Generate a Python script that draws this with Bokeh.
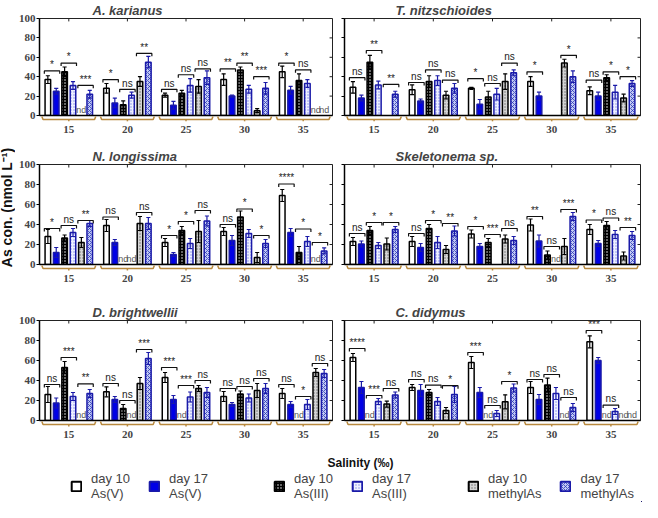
import numpy as np
from bokeh.plotting import figure
from bokeh.models import (ColumnDataSource, Range1d, FixedTicker, Legend, LegendItem, Label)
from bokeh.layouts import column, row
from bokeh.embed import file_html
from bokeh.resources import INLINE
from bokeh.core.properties import value

salinity = ["15", "20", "25", "30", "35"]
series = ["day 10\nAs(V)", "day 17\nAs(V)", "day 10\nAs(III)", "day 17\nAs(III)",
          "day 10\nmethylAs", "day 17\nmethylAs"]
yticks = [0, 20, 40, 60, 80, 100]
N = None

# ---- A. karianus ----
kar_mean = [[37, 25, 45, 31, N, 22], [28, 13, 11, 21, 35, 55], [21, 10.5, 23, 31, 30, 39],
            [37, 20, 47, 27, 5, 28], [45, 26, 36, 33, N, N]]
kar_sd = [[4, 3, 5, 4, 0, 4], [5, 5, 4, 3, 5, 6], [2, 4, 3, 7, 7, 7], [6, 1, 3, 4, 2, 6], [6, 4, 7, 4, 0, 0]]
kar_nd = [(0, 4), (4, 4), (4, 5)]
kar_sig = [(0, 0, 1, "*", 46), (0, 2, 3, "*", 54), (0, 4, 5, "***", 31), (1, 0, 1, "*", 37),
           (1, 2, 3, "ns", 27), (1, 4, 5, "**", 64), (2, 0, 1, "ns", 27), (2, 2, 3, "ns", 42),
           (2, 4, 5, "ns", 48), (3, 0, 1, "**", 48), (3, 2, 3, "**", 54), (3, 4, 5, "***", 40),
           (4, 0, 1, "*", 54), (4, 2, 3, "ns", 47)]

# ---- T. nitzschioides ----
nit_mean = [[29, 18, 55, 31.5, N, 22], [26.5, 15, 35, 36, 21, 28], [28, 11.5, 19, 22, 35, 44],
            [35, 20, N, N, 54, 40], [25.5, 20, 39, 24, 18, 33]]
nit_sd = [[6, 3, 7, 4, 0, 3], [5, 2, 6, 5, 4, 5], [1, 5, 6, 6, 8, 3], [5, 4, 0, 0, 4, 6], [4, 4, 3, 7, 4, 3]]
nit_nd = []
nit_sig = [(0, 0, 1, "ns", 39), (0, 2, 3, "**", 67), (0, 4, 5, "**", 32), (1, 0, 1, "ns", 34),
           (1, 2, 3, "ns", 47), (1, 4, 5, "ns", 36.5), (2, 0, 1, "*", 38), (2, 2, 3, "ns", 33),
           (2, 4, 5, "ns", 54), (3, 0, 1, "*", 45), (3, 4, 5, "*", 62), (4, 0, 1, "ns", 36.5),
           (4, 2, 3, "*", 45), (4, 4, 5, "*", 40)]

# ---- N. longissima ----
lon_mean = [[28, 12, 26.5, 32, 22, 41], [39, 22, N, N, 41, 41], [22, 10, 34, 21, 33, 43.5],
            [33, 24, 47.5, 31, 7, 21], [69, 32, 12, 23, N, 13.6]]
lon_sd = [[7, 5, 3, 4, 5, 3], [6, 3, 0, 0, 7, 6], [4, 2, 4, 5, 11, 5], [4, 5, 6, 4, 5, 4], [6, 4, 6, 5, 0, 3]]
lon_nd = [(1, 2), (1, 3), (4, 4)]
lon_sig = [(0, 0, 1, "*", 36), (0, 2, 3, "ns", 39), (0, 4, 5, "**", 44), (1, 0, 1, "ns", 47.5),
           (1, 4, 5, "ns", 52), (2, 0, 1, "*", 29), (2, 2, 3, "*", 43), (2, 4, 5, "ns", 54),
           (3, 0, 1, "ns", 40), (3, 2, 3, "*", 55.5), (3, 4, 5, "*", 29), (4, 0, 1, "****", 80.5),
           (4, 2, 3, "*", 35.5), (4, 4, 5, "*", 22)]

# ---- Skeletonema sp. ----
ske_mean = [[23, 20.5, 34, 19, 20.5, 35], [23, 17, 36, 22, 15, 33.5], [30.5, 18, 22, N, 25.5, 24],
            [39.5, 23.5, 9.5, N, 18, 48], [35, 21, 39, 30, 8.5, 29]]
ske_sd = [[4, 3, 4, 3, 6, 3], [5, 4, 4, 6, 4, 5], [4, 3, 4, 0, 4, 4], [6, 6, 4, 0, 8, 4], [5, 3, 4, 4, 4, 4]]
ske_nd = [(3, 3)]
ske_sig = [(0, 0, 1, "ns", 31), (0, 2, 3, "*", 42), (0, 4, 5, "*", 42), (1, 0, 1, "ns", 31),
           (1, 2, 3, "*", 44), (1, 4, 5, "**", 41), (2, 0, 1, "*", 38), (2, 2, 3, "***", 30),
           (2, 4, 5, "ns", 36), (3, 0, 1, "**", 48), (3, 2, 3, "ns", 18), (3, 4, 5, "***", 55),
           (4, 0, 1, "*", 44.5), (4, 2, 3, "ns", 46.5), (4, 4, 5, "**", 37)]

# ---- D. brightwellii ----
bri_mean = [[26, 17.5, 53, 24, N, 27], [28.7, 21, 12, N, 37, 62], [43, 21, N, 23.5, 32, 28],
            [24, 16, 26.5, 22.5, 30, 32], [27, 16, N, 16, 48, 47]]
bri_sd = [[8, 5, 6, 4, 0, 4], [5, 3, 4, 0, 6, 6], [5, 4, 0, 5, 3, 5], [5, 2, 3, 4, 7, 5], [5, 3, 0, 5, 4, 4]]
bri_nd = [(0, 4), (1, 3), (2, 2), (4, 2)]
bri_sig = [(0, 0, 1, "ns", 36), (0, 2, 3, "***", 63), (0, 4, 5, "**", 36.6), (1, 0, 1, "ns", 37),
           (1, 2, 3, "ns", 20), (1, 4, 5, "***", 71), (2, 0, 1, "***", 53), (2, 2, 3, "***", 35),
           (2, 4, 5, "ns", 40), (3, 0, 1, "ns", 32), (3, 2, 3, "ns", 34), (3, 4, 5, "ns", 42),
           (4, 0, 1, "ns", 36), (4, 2, 3, "*", 24), (4, 4, 5, "ns", 57)]

# ---- C. didymus ----
did_mean = [[63, 33, N, 19, 16.4, 25.5], [33, 30, 28, 19, 10, 26], [58, 28, N, 7, 18.7, 32.5],
            [33, 21, 35.4, 27, N, 13], [78.7, 60, N, 9, N, N]]
did_sd = [[4, 6, 0, 3, 3, 3], [3, 6, 3, 4, 3, 8], [6, 5, 0, 3, 7, 4], [6, 5, 7, 6, 0, 4], [6, 3, 0, 3, 0, 0]]
did_nd = [(0, 2), (2, 2), (3, 4), (4, 2), (4, 4), (4, 5)]
did_sig = [(0, 0, 1, "****", 72), (0, 2, 3, "***", 25), (0, 4, 5, "ns", 32), (1, 0, 1, "ns", 41),
           (1, 2, 3, "ns", 35.4), (1, 4, 5, "*", 34.8), (2, 0, 1, "***", 68), (2, 2, 3, "ns", 15),
           (2, 4, 5, "*", 39), (3, 0, 1, "ns", 41), (3, 2, 3, "ns", 46), (3, 4, 5, "ns", 23),
           (4, 0, 1, "***", 90), (4, 2, 3, "ns", 15.4)]

BLUE = "#0000e6"
DBLUE = "#1a1aa8"
STYLES = [
    dict(fill_color="white", line_color="black"),
    dict(fill_color=BLUE, line_color=DBLUE),
    dict(fill_color="black", line_color="black", hatch_pattern="dot", hatch_color="white", hatch_scale=3, hatch_weight=1.6),
    dict(fill_color="#eef0ff", line_color=DBLUE, hatch_pattern="dot", hatch_color="#7f8de8", hatch_scale=3, hatch_weight=1),
    dict(fill_color="#d4d4d4", line_color="black", hatch_pattern="dot", hatch_color="#6e6e6e", hatch_scale=3, hatch_weight=1),
    dict(fill_color="#c4caf4", line_color=DBLUE, hatch_pattern="diagonal_cross", hatch_color="#2a3ab8", hatch_scale=4, hatch_weight=0.8),
]
ECOL = ["black", DBLUE, "black", DBLUE, "black", DBLUE]
STEP = 0.143
BW = 0.095
CAP = 0.035
BROWN = "#b8893e"
SANS = "Liberation Sans"
SERIF = "Liberation Serif"


def bar_x(g, j):
    return g + (j - 2.5) * STEP


def panel(name, mean, sd, nd, sig, is_left, height, mb_top, mb_bottom):
    w = 323 if is_left else 304
    p = figure(width=w, height=height, x_range=Range1d(-0.5, 4.5), y_range=Range1d(0, 100),
               output_backend="svg", toolbar_location=None,
               min_border_left=20 if is_left else 6, min_border_right=6 if is_left else 2,
               min_border_top=mb_top, min_border_bottom=mb_bottom)
    p.title.text = name
    p.title.text_font = SANS
    p.title.text_font_style = "bold italic"
    p.title.text_font_size = "13px"
    p.title.align = "left"
    p.title.offset = 53 if is_left else 51
    p.title.standoff = 1
    p.xgrid.visible = False
    p.ygrid.visible = False
    p.outline_line_color = "#222222"
    p.outline_line_width = 1

    xa = p.xaxis[0]
    xa.ticker = FixedTicker(ticks=list(range(len(salinity))))
    xa.major_label_overrides = {i: s for i, s in enumerate(salinity)}
    xa.major_tick_out = 0
    xa.major_tick_in = 0
    xa.major_label_standoff = 10
    xa.major_label_text_font = SERIF
    xa.major_label_text_font_style = "bold"
    xa.major_label_text_font_size = "11px"
    xa.axis_line_width = 1.5

    ya = p.yaxis[0]
    ya.ticker = FixedTicker(ticks=yticks)
    ya.major_tick_out = 3
    ya.major_tick_in = 0
    ya.major_label_standoff = 1
    ya.axis_line_width = 1.5
    ya.major_label_text_font = SERIF
    ya.major_label_text_font_style = "bold"
    ya.major_label_text_font_size = "11px"
    if not is_left:
        ya.major_label_overrides = {t: "" for t in yticks}

    # inward ticks on top and right borders
    gi = list(range(len(salinity)))
    p.segment(x0=gi, y0=[100] * 5, x1=gi, y1=[97] * 5, line_color="#222222", line_width=1)
    p.segment(x0=[4.5] * len(yticks), y0=yticks, x1=[4.45] * len(yticks), y1=yticks,
              line_color="#222222", line_width=1)

    for j in range(6):
        xs, tops, lo, hi, xl, xr = [], [], [], [], [], []
        for g in range(len(salinity)):
            v = mean[g][j]
            if v is None:
                continue
            x = bar_x(g, j)
            xs.append(x)
            tops.append(v)
            lo.append(v - sd[g][j])
            hi.append(v + sd[g][j])
            xl.append(x - CAP)
            xr.append(x + CAP)
        src = ColumnDataSource(dict(x=xs, top=tops, lo=lo, hi=hi, xl=xl, xr=xr))
        p.vbar(x="x", top="top", width=BW, bottom=0, source=src, line_width=1.5, **STYLES[j])
        p.segment(x0="x", y0="lo", x1="x", y1="hi", source=src, line_color=ECOL[j], line_width=1.2)
        p.segment(x0="xl", y0="hi", x1="xr", y1="hi", source=src, line_color=ECOL[j], line_width=1.2)
        p.segment(x0="xl", y0="lo", x1="xr", y1="lo", source=src, line_color=ECOL[j], line_width=1.2)

    # nd labels
    if nd:
        p.text(x=[bar_x(g, j) for g, j in nd], y=[0.8] * len(nd), text=["nd"] * len(nd),
               text_font=value(SANS), text_font_size="9px", text_color="#555555",
               text_align="center", text_baseline="bottom")

    # significance brackets
    bxs, bys, tx, ty, tt = [], [], [], [], []
    for g, a, b, lab, h in sig:
        x0 = bar_x(g, a) - 0.06
        x1 = bar_x(g, b) + 0.06
        bxs.append([x0, x0, x1, x1])
        bys.append([h - 3, h, h, h - 3])
        tx.append((x0 + x1) / 2)
        ty.append(h + 0.8)
        tt.append(lab)
    p.multi_line(xs=bxs, ys=bys, line_color="#111111", line_width=1.2)
    p.text(x=tx, y=ty, text=tt, text_font=value(SANS), text_font_size="10px",
           text_color="#222222", text_align="center", text_baseline="bottom")

    # brown group brackets below the axis
    gxs, gys = [], []
    for g in gi:
        gxs.append([g - 0.46, g - 0.44, g + 0.44, g + 0.46])
        gys.append([-1.0, -4.0, -4.0, -1.0])
        gxs.append([g, g])
        gys.append([-4.0, -6.0])
    p.multi_line(xs=gxs, ys=gys, line_color=BROWN, line_width=1.5, level="overlay")
    return p


tl = panel("A. karianus", kar_mean, kar_sd, kar_nd, kar_sig, True, 142, 15, 27)
tr = panel("T. nitzschioides", nit_mean, nit_sd, nit_nd, nit_sig, False, 142, 15, 27)
ml = panel("N. longissima", lon_mean, lon_sd, lon_nd, lon_sig, True, 153, 22, 31)
mr = panel("Skeletonema sp.", ske_mean, ske_sd, ske_nd, ske_sig, False, 153, 22, 31)
bl = panel("D. brightwellii", bri_mean, bri_sd, bri_nd, bri_sig, True, 147, 25, 22)
br = panel("C. didymus", did_mean, did_sd, did_nd, did_sig, False, 147, 25, 22)

# y-axis title strip
ylab = figure(width=15, height=442, x_range=Range1d(0, 1), y_range=Range1d(0, 442),
              output_backend="svg", toolbar_location=None, min_border=0,
              x_axis_type=None, y_axis_type=None, outline_line_color=None)
ylab.xgrid.visible = False
ylab.ygrid.visible = False
ylab.add_layout(Label(x=0.45, y=442 - 207, text="As con. (nmol L⁻¹)", angle=np.pi / 2,
                      text_align="center", text_baseline="middle", text_font=SANS,
                      text_font_style="bold", text_font_size="14px", text_color="#111111"))

# bottom strip: x title and legend
bot = figure(width=642, height=60, x_range=Range1d(0, 642), y_range=Range1d(0, 60),
             output_backend="svg", toolbar_location=None, min_border=0,
             x_axis_type=None, y_axis_type=None, outline_line_color=None)
bot.xgrid.visible = False
bot.ygrid.visible = False
bot.add_layout(Label(x=360, y=40, text="Salinity (‰)", text_align="center", text_baseline="middle",
                     text_font=SANS, text_font_style="bold", text_font_size="12px", text_color="#111111"))
rends = [bot.vbar(x=[900], top=[1], width=1, line_width=2, **STYLES[j]) for j in range(6)]
for k, xloc in enumerate([70, 273, 467]):
    lg = Legend(items=[LegendItem(label=series[2 * k], renderers=[rends[2 * k]]),
                       LegendItem(label=series[2 * k + 1], renderers=[rends[2 * k + 1]])],
                location=(xloc, 1), orientation="horizontal", spacing=18, padding=0, margin=0,
                glyph_width=12, glyph_height=12, label_standoff=9,
                label_text_font=SANS, label_text_font_size="13px", label_text_line_height=1.05,
                border_line_color=None, background_fill_alpha=0)
    bot.add_layout(lg)

layout = column(row(ylab, column(row(tl, tr), row(ml, mr), row(bl, br))), bot)
open("out.html", "w").write(file_html(layout, INLINE))
